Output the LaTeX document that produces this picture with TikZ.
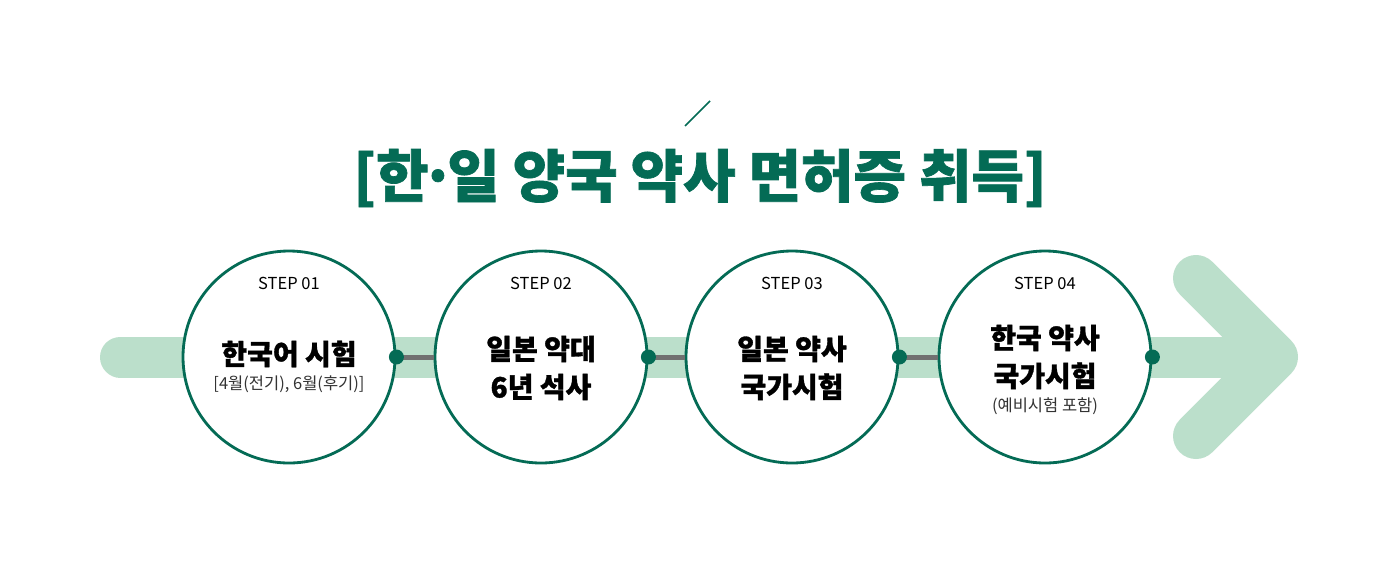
\documentclass[tikz,border=0pt]{standalone}
\usepackage{fontspec}
\newfontfamily\cjk{Noto Sans CJK KR}
\newfontfamily\cjkheavy[BoldFeatures={FakeBold=1.2}]{Noto Sans CJK KR}
\definecolor{dkgreen}{HTML}{046B55}
\definecolor{ltgreen}{HTML}{BBDFCB}
\definecolor{linkgray}{HTML}{707070}
\tikzset{
  stepcircle/.style={circle, draw=dkgreen, line width=2.8pt, fill=white, minimum size=212pt, inner sep=0pt},
  steplabel/.style={font=\cjk\fontsize{16.5}{20}\selectfont, text=black},
  mainlabel/.style={font=\cjkheavy\bfseries\fontsize{28}{38}\selectfont, text=black, align=center},
  sublabel/.style={font=\cjk\fontsize{16.5}{20}\selectfont, text=black!80},
  dot/.style={circle, fill=dkgreen, minimum size=15pt, inner sep=0pt},
  link/.style={linkgray, line width=5pt},
}
\begin{document}
\begin{tikzpicture}[x=1pt,y=-1pt]
\useasboundingbox (0,0) rectangle (1400,566);
\fill[white] (0,0) rectangle (1400,566);
% band and arrow
\coordinate (bandL) at (120.5,357);
\coordinate (tip) at (1275,357);
\coordinate (armT) at (1196,278);
\coordinate (armB) at (1196,436);
\draw[ltgreen, line width=41pt, line cap=round] (bandL) -- (tip);
\draw[ltgreen, line width=46pt, line cap=round, line join=round] (armT) -- (tip) -- (armB);
% title
\coordinate (s1) at (685,126);
\coordinate (s2) at (710,101);
\draw[dkgreen, line width=1.5pt] (s1) -- (s2);
\node[font=\cjkheavy\bfseries\fontsize{57}{62}\selectfont, text=dkgreen] (title) at (700,178) {[한\kern-8pt·\kern-8pt일 양국 약사 면허증 취득]};
% circles
\node[stepcircle] (c1) at (289,357) {};
\node[stepcircle] (c2) at (541,357) {};
\node[stepcircle] (c3) at (792,357) {};
\node[stepcircle] (c4) at (1045,357) {};
% connectors
\draw[link] (c1.east) -- (c2.west);
\draw[link] (c2.east) -- (c3.west);
\draw[link] (c3.east) -- (c4.west);
\node[dot] (d1) at (c1.east) {};
\node[dot] (d2) at (c2.east) {};
\node[dot] (d3) at (c3.east) {};
\node[dot] (d4) at (c4.east) {};
% texts
\node[steplabel] (t1) at (289,283) {STEP 01};
\node[steplabel] (t2) at (541,283) {STEP 02};
\node[steplabel] (t3) at (792,283) {STEP 03};
\node[steplabel] (t4) at (1045,283) {STEP 04};
\node[mainlabel] (m1) at (289,354) {한국어 시험};
\node[sublabel] (u1) at (289,384) {[4월(전기), 6월(후기)]};
\node[mainlabel] (m2) at (541,368) {일본 약대\\6년 석사};
\node[mainlabel] (m3) at (792,368) {일본 약사\\국가시험};
\node[mainlabel] (m4) at (1045,357) {한국 약사\\국가시험};
\node[sublabel] (u4) at (1045,406) {(예비시험 포함)};
\end{tikzpicture}
\end{document}
